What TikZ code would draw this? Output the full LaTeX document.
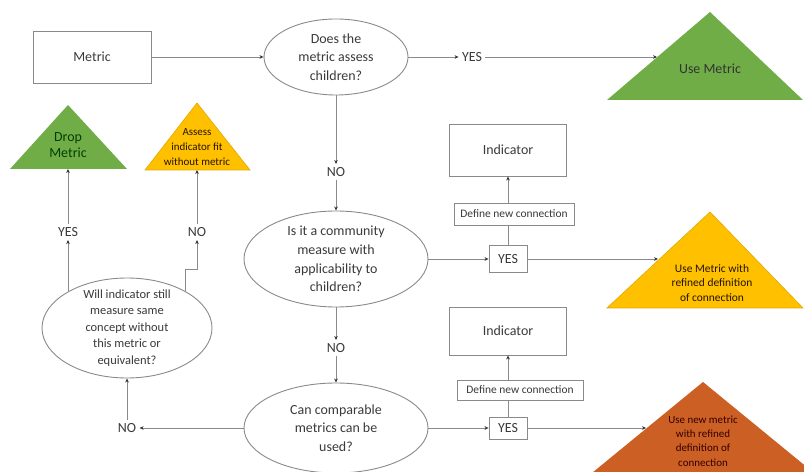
\documentclass[tikz,border=0pt]{standalone}
\usepackage{fontspec}
\setmainfont{Carlito}
\usetikzlibrary{arrows.meta,shapes.geometric,calc}
\definecolor{tgreen}{HTML}{70AD47}
\definecolor{tyellow}{HTML}{FFC000}
\definecolor{tyellowd}{HTML}{E0A800}
\definecolor{torange}{HTML}{CC5F24}
\definecolor{lgray}{HTML}{8A8A8A}
\definecolor{tx}{HTML}{3A3A3A}
\begin{document}
\begin{tikzpicture}[x=1bp,y=-1bp,
  font=\fontsize{14}{18}\selectfont, text=tx,
  arr/.style={draw=lgray, line width=0.9bp, -{Stealth[length=4bp,width=3.6bp,color=black!80]}},
  ln/.style={draw=lgray, line width=0.9bp},
  box/.style={draw=lgray, line width=0.9bp, fill=white, rectangle, inner sep=0pt},
  ell/.style={draw=lgray, line width=0.9bp, fill=white, ellipse, inner sep=0pt},
  lbl/.style={align=center, text=tx, inner sep=0pt},
  txt/.style={inner sep=2bp, outer sep=1.5bp},
  tri/.style={align=center, text=black!80, inner sep=0pt},
  smallbox/.style={box, font=\fontsize{11.5}{13}\selectfont}
]
\clip (0,0) rectangle (804,472);
\fill[white] (0,0) rectangle (804,472);

% ---- top row
\node[box, minimum width=118bp, minimum height=52bp] (metric) at (92,57) {Metric};
\node[ell, minimum width=144bp, minimum height=76bp,
  label={[lbl, font=\fontsize{14}{18.5}\selectfont]center:Does the\\metric assess\\children?}] (e1) at (336,57) {};
\node[txt] (yes1) at (472,57) {YES};
\fill[tgreen] (710,12) -- (803,100) -- (607,100) -- cycle;
\node[tri] (usem) at (710,69) {Use Metric};
\coordinate (usem-in) at (657,57);

\draw[arr] (metric) -- (e1);
\draw[arr] (e1) -- (yes1);
\draw[arr] (yes1) -- (usem-in);

% ---- second decision
\node[txt] (no1) at (336,172) {NO};
\node[ell, minimum width=184bp, minimum height=96bp,
  label={[lbl, font=\fontsize{14}{18.7}\selectfont]center:Is it a community\\measure with\\applicability to\\children?}] (e2) at (336,259) {};
\draw[arr] (e1) -- (no1);
\draw[arr] (no1) -- (e2);

\node[box, minimum width=117bp, minimum height=52bp] (ind1) at (508,150) {Indicator};
\node[smallbox, minimum width=120bp, minimum height=22bp] (def1) at (514,214) {Define new connection};
\node[box, minimum width=38bp, minimum height=27bp] (yes2) at (508,259) {YES};
\filldraw[fill=tyellow, draw=tyellowd, line width=0.6bp] (710,212) -- (803,308) -- (607,308) -- cycle;
\node[tri, font=\fontsize{11.5}{14.5}\selectfont, text=black!85!orange] (usemr) at (712,283) {Use Metric with\\refined definition\\of connection};
\coordinate (usemr-in) at (658,259);

\draw[arr] (e2) -- (yes2);
\draw[ln] (yes2) -- (yes2 |- def1.south);
\draw[arr] (yes2 |- def1.north) -- (ind1);
\draw[arr] (yes2) -- (usemr-in);

% ---- third decision
\node[txt] (no2) at (336,348) {NO};
\node[ell, minimum width=184bp, minimum height=90bp,
  label={[lbl, font=\fontsize{14}{18.5}\selectfont]center:Can comparable\\metrics can be\\used?}] (e3) at (336,428) {};
\draw[arr] (e2) -- (no2);
\draw[arr] (no2) -- (e3);

\node[box, minimum width=117bp, minimum height=48bp] (ind2) at (508,331) {Indicator};
\node[smallbox, minimum width=126bp, minimum height=20bp] (def2) at (520,390) {Define new connection};
\node[box, minimum width=38bp, minimum height=22bp] (yes3) at (508,428) {YES};
\fill[torange] (703,382) -- (886,532) -- (520,532) -- cycle;
\node[tri, font=\fontsize{11}{14.5}\selectfont, text=black!80!red] (usenew) at (703,441) {Use new metric\\with refined\\definition of\\connection};
\coordinate (usenew-in) at (646,428);

\draw[arr] (e3) -- (yes3);
\draw[ln] (yes3) -- (yes3 |- def2.south);
\draw[arr] (yes3 |- def2.north) -- (ind2);
\draw[arr] (yes3) -- (usenew-in);

% ---- left branch
\node[txt] (no3) at (127,428) {NO};
\node[ell, minimum width=170bp, minimum height=100bp,
  label={[lbl, font=\fontsize{12.5}{16.5}\selectfont]center:Will indicator still\\measure same\\concept without\\this metric or\\equivalent?}] (e4) at (127,328) {};
\draw[arr] (e3) -- (no3);
\draw[arr] (no3) -- (e4);

\node[txt] (yes4) at (68,232) {YES};
\node[txt] (no4) at (197,232) {NO};

\fill[tgreen] (68,105) -- (127,169) -- (10,169) -- cycle;
\node[tri, font=\fontsize{14}{16}\selectfont, text=black!75!green] (drop) at (68,145) {Drop\\Metric};
\coordinate (drop-base) at (68,169);

\filldraw[fill=tyellow, draw=tyellowd, line width=0.6bp] (197,103) -- (250,170) -- (145,170) -- cycle;
\node[tri, font=\fontsize{11}{15.5}\selectfont, text=black!85!orange] (assess) at (197,147) {Assess\\indicator fit\\without metric};
\coordinate (assess-base) at (197,170);

\draw[arr] (yes4 |- e4.148) -- (yes4);
\draw[arr] (yes4) -- (drop-base);
\draw[arr] (e4.32) -- ++(0,-22) -| (no4);
\draw[arr] (no4) -- (assess-base);
\end{tikzpicture}
\end{document}
